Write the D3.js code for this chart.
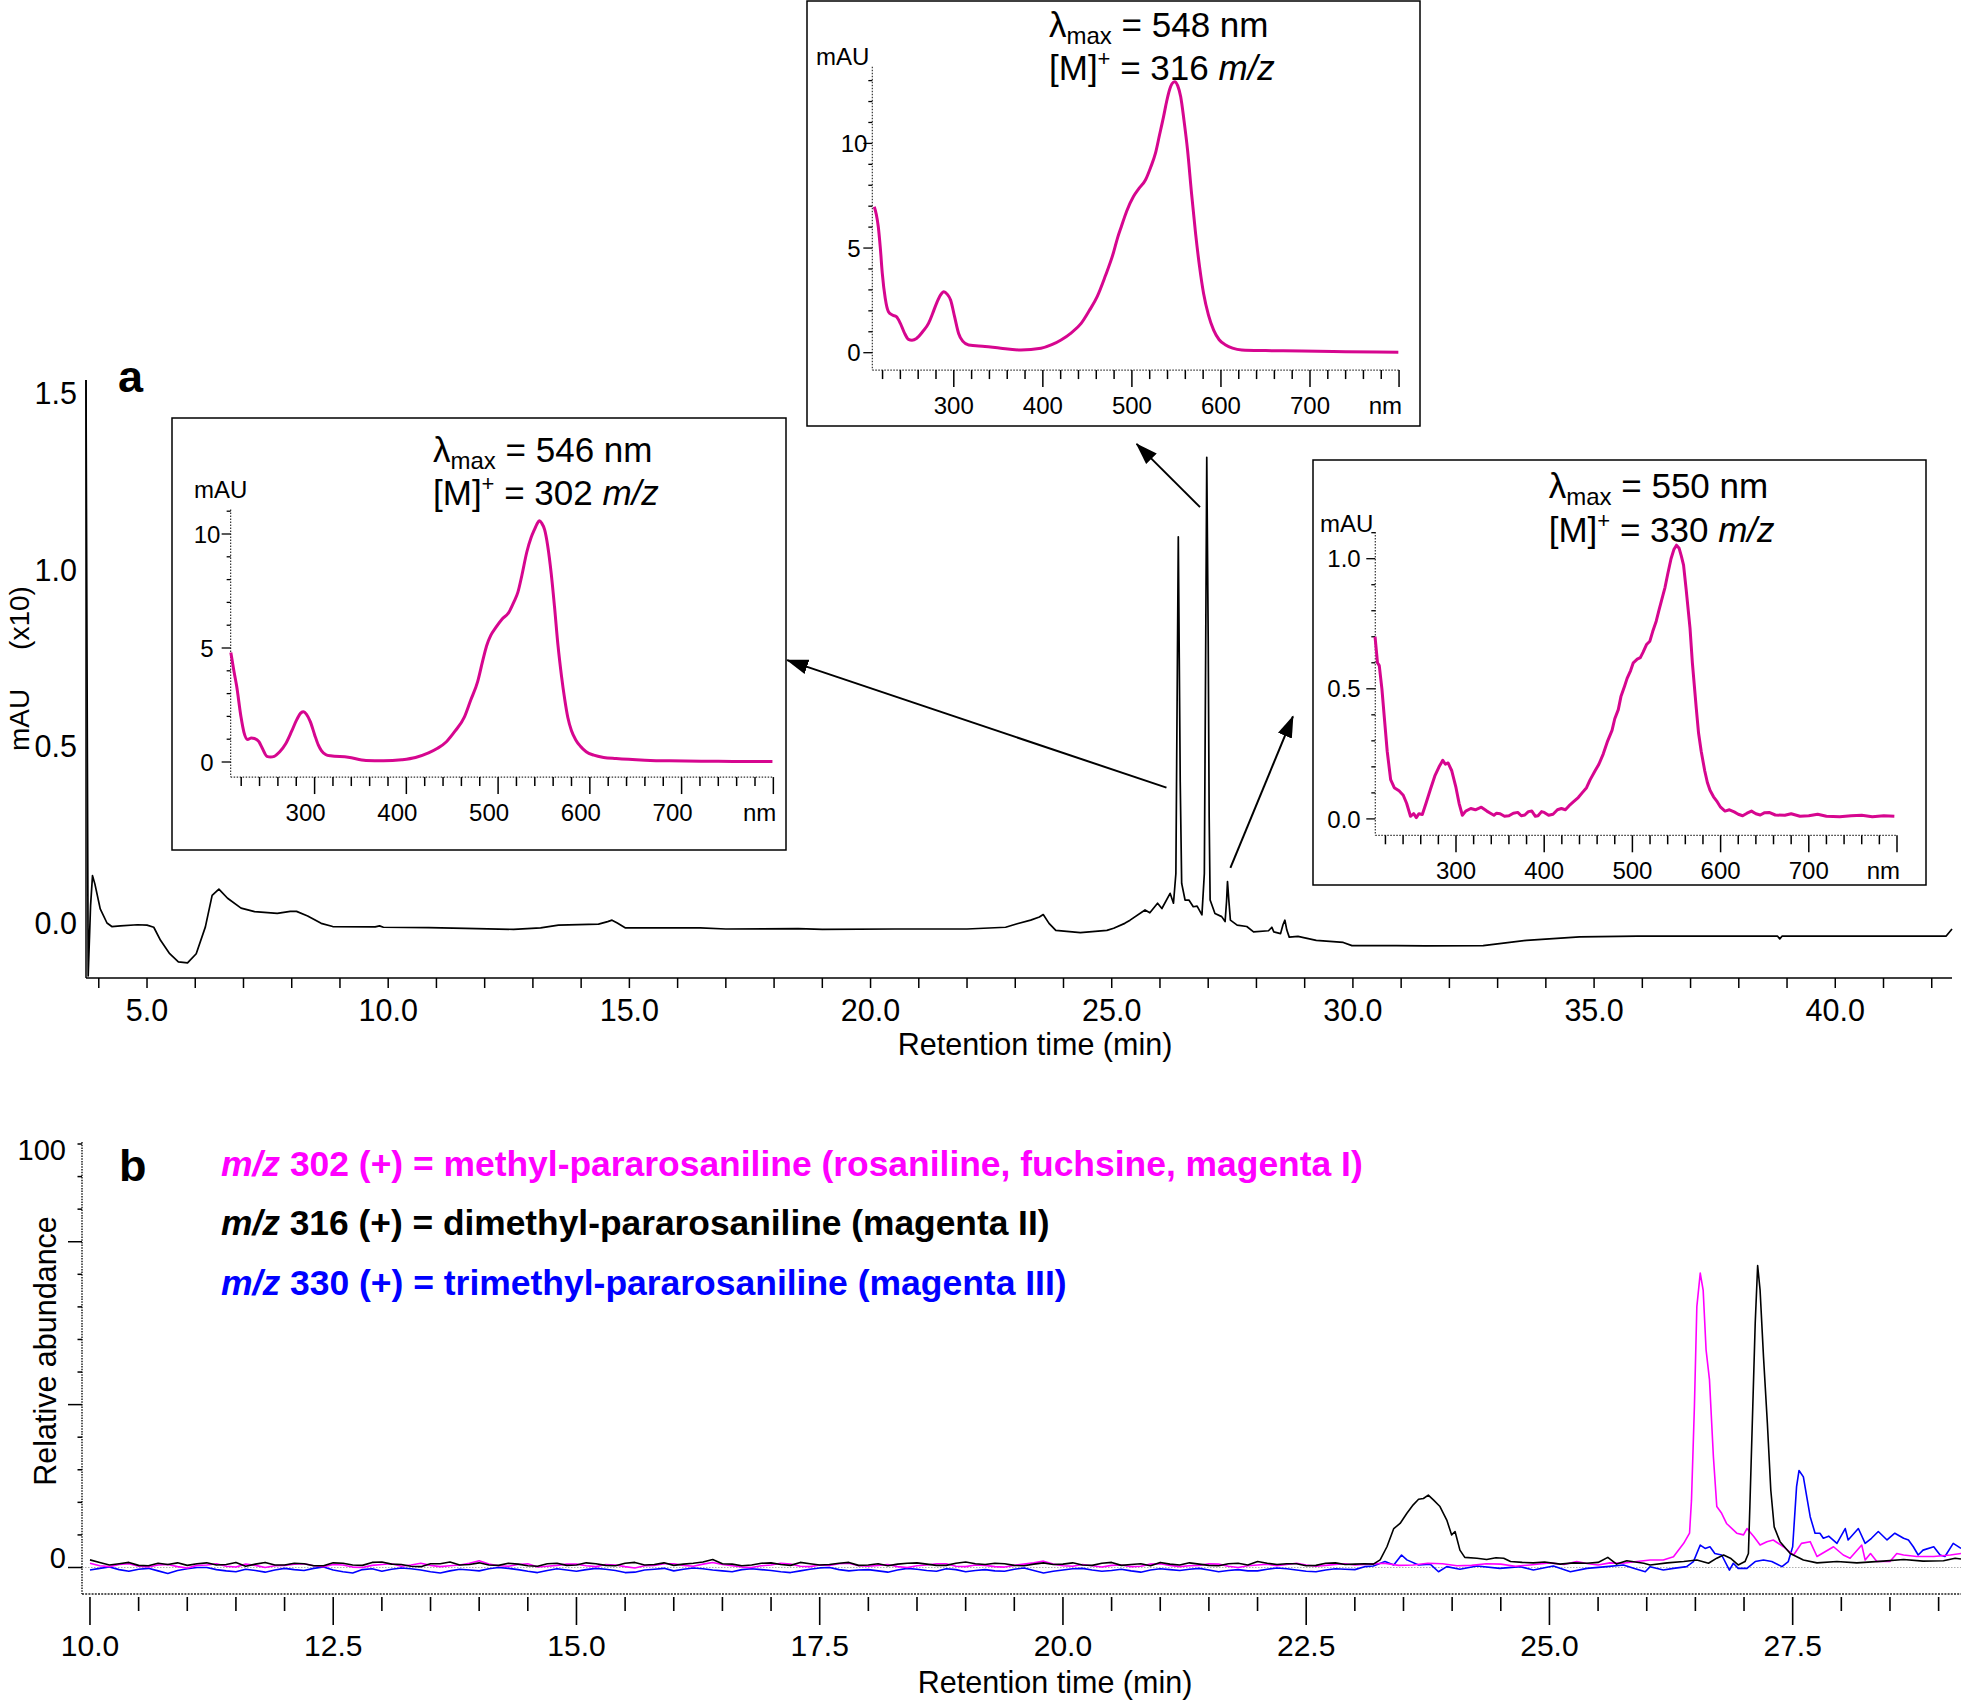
<!DOCTYPE html>
<html><head><meta charset="utf-8">
<script src="https://cdn.jsdelivr.net/npm/d3@7"></script>
<style>
body{margin:0;background:#fff}
svg{display:block;font-family:"Liberation Sans",Arial,Helvetica,sans-serif}
</style>
</head><body>
<svg id="c" width="1961" height="1703"></svg>
<script>
// ---------------- DATA ----------------
// Panel a: UV-Vis chromatogram (retention time min, mAU x10)
const chromA = [
[3.735,1.537],[3.78,-0.15],[3.83,0.05],[3.87,0.134],[3.92,0.11],[4.03,0.04],[4.17,0.0],[4.27,-0.01],[4.45,-0.008],[4.8,-0.005],[5.0,-0.006],[5.14,-0.012],[5.28,-0.049],[5.47,-0.087],[5.65,-0.11],[5.84,-0.113],[6.02,-0.087],[6.21,-0.011],[6.35,0.078],[6.49,0.096],[6.67,0.07],[6.95,0.042],[7.23,0.032],[7.7,0.027],[7.97,0.033],[8.1,0.033],[8.33,0.02],[8.61,-0.001],[8.85,-0.01],[9.73,-0.011],[9.82,-0.008],[9.9,-0.012],[10.84,-0.013],[11.6,-0.015],[12.6,-0.018],[13.16,-0.014],[13.53,-0.006],[14.36,-0.003],[14.55,0.004],[14.64,0.008],[14.75,0.0],[14.92,-0.014],[16.47,-0.014],[17.0,-0.017],[18.5,-0.016],[19.0,-0.018],[20.5,-0.017],[22.0,-0.017],[22.8,-0.012],[23.04,-0.002],[23.32,0.008],[23.5,0.017],[23.58,0.024],[23.7,-0.001],[23.84,-0.021],[24.35,-0.027],[24.9,-0.021],[25.04,-0.015],[25.27,-0.001],[25.38,0.008],[25.69,0.037],[25.79,0.029],[25.95,0.056],[26.04,0.041],[26.21,0.084],[26.28,0.056],[26.33,0.14],[26.36,0.71],[26.38,1.093],[26.40,0.75],[26.42,0.4],[26.45,0.112],[26.52,0.065],[26.6,0.065],[26.69,0.046],[26.77,0.048],[26.87,0.023],[26.92,0.14],[26.945,0.71],[26.97,1.318],[27.0,0.8],[27.02,0.3],[27.04,0.065],[27.14,0.027],[27.28,0.018],[27.35,0.004],[27.38,0.06],[27.4,0.117],[27.43,0.06],[27.46,0.008],[27.6,-0.006],[27.8,-0.01],[27.94,-0.025],[28.25,-0.022],[28.32,-0.012],[28.36,-0.025],[28.5,-0.03],[28.55,-0.005],[28.59,0.008],[28.63,-0.02],[28.68,-0.04],[28.86,-0.038],[29.24,-0.049],[29.8,-0.055],[29.98,-0.064],[30.9,-0.064],[31.5,-0.065],[32.7,-0.064],[33.6,-0.049],[34.7,-0.039],[35.9,-0.037],[38.8,-0.037],[38.85,-0.045],[38.9,-0.037],[42.3,-0.037],[42.42,-0.017]
];
const aXTickLabels = [5,10,15,20,25,30,35,40];
const aYTickLabels = [0,0.5,1.0,1.5];

// UV-Vis spectra (nm, mAU)
const spec302 = [[208.7,4.8],[212,4.0],[215,3.34],[219.8,1.97],[223,1.3],[227,0.99],[231,1.05],[234.5,1.03],[239.3,0.89],[243,0.6],[248,0.25],[252,0.22],[256,0.25],[262,0.45],[268.5,0.8],[275,1.35],[280.7,1.87],[285,2.15],[288,2.2],[291,2.1],[295.3,1.77],[300,1.2],[304,0.75],[307.4,0.5],[312,0.33],[317.2,0.27],[336.6,0.21],[356,0.07],[375,0.05],[395,0.1],[410,0.2],[424.2,0.4],[434,0.6],[443.7,0.89],[453,1.35],[463.2,1.97],[470,2.7],[477.8,3.54],[483,4.4],[487.5,5.1],[492,5.55],[497.2,5.88],[504,6.25],[511.8,6.57],[517,7.0],[521.6,7.45],[526,8.2],[531.3,9.21],[536,9.85],[539.6,10.19],[542.5,10.45],[544.9,10.58],[547.5,10.48],[550.7,10.19],[554,9.5],[558,8.23],[561.5,6.8],[565.3,5.1],[569,3.8],[572.6,2.75],[576,1.95],[579.9,1.38],[584.5,0.98],[589.7,0.69],[596,0.45],[604.3,0.3],[615,0.2],[628.6,0.15],[660,0.08],[686.9,0.05],[740,0.03],[799,0.02]];
const spec316 = [[210.7,6.97],[213,6.6],[215.2,6.02],[217.5,5.0],[219.7,3.79],[223,2.6],[226.6,1.96],[231,1.8],[235.5,1.72],[240,1.4],[244.5,0.95],[249,0.64],[253,0.6],[258.1,0.68],[265,1.0],[271.6,1.4],[276,1.85],[280.6,2.36],[285,2.75],[288.8,2.91],[292.5,2.8],[296.4,2.52],[301,1.7],[305.4,0.92],[310,0.55],[316.7,0.37],[335,0.3],[352.8,0.21],[375.4,0.13],[397.9,0.21],[410,0.38],[420.4,0.61],[432,0.95],[443,1.4],[452,2.0],[461,2.68],[470,3.65],[479.1,4.75],[484,5.5],[488.1,6.02],[494,6.75],[501.6,7.45],[508,7.85],[515.2,8.25],[521,8.85],[526.4,9.52],[531,10.4],[535.5,11.27],[539,12.0],[542.2,12.55],[545,12.85],[548.1,12.95],[551.5,12.75],[554.8,12.23],[558.5,11.1],[562.5,9.68],[567,7.6],[571.5,5.7],[576,4.1],[580.5,2.83],[586,1.8],[591.8,1.08],[598,0.62],[605.3,0.37],[613,0.22],[623.4,0.13],[650,0.1],[691,0.08],[740,0.05],[799.2,0.02]];
const spec330 = [[208.2,0.70],[211,0.60],[213,0.589],[216,0.5],[218.7,0.391],[222,0.26],[225.9,0.151],[230,0.12],[235.4,0.108],[240.2,0.091],[244,0.06],[248.4,0.01],[252,0.02],[255,0.005],[258,0.02],[261.8,0.017],[266,0.06],[271.3,0.117],[276,0.165],[280.8,0.20],[285,0.225],[288,0.21],[291,0.215],[295.2,0.185],[300,0.12],[303.5,0.06],[307.2,0.014],[311,0.03],[316.7,0.04],[322,0.035],[328.7,0.045],[335,0.03],[339,0.022],[343,0.014],[346,0.022],[350,0.02],[355,0.01],[360,0.012],[365,0.022],[370,0.025],[374,0.012],[378,0.015],[382,0.028],[386,0.03],[390,0.01],[393,0.012],[397,0.028],[400,0.025],[405,0.014],[410,0.018],[415,0.035],[419.5,0.04],[424,0.035],[428,0.05],[433,0.065],[438.6,0.082],[443,0.1],[448,0.12],[452,0.15],[457.7,0.185],[462,0.21],[467,0.25],[472,0.3],[476.9,0.34],[480,0.385],[484,0.42],[487,0.47],[491.2,0.511],[494,0.54],[498,0.57],[501,0.6],[505.5,0.614],[509,0.62],[512,0.64],[516,0.67],[519.8,0.683],[523,0.72],[527,0.76],[530,0.8],[534.2,0.854],[537,0.89],[540,0.94],[543.8,1.0],[547,1.035],[550,1.052],[553,1.04],[555.5,1.01],[558,0.975],[561,0.88],[565.3,0.734],[568,0.6],[572.4,0.426],[575,0.33],[578,0.26],[582,0.185],[585,0.14],[588,0.11],[592,0.085],[596.3,0.065],[600,0.045],[605,0.03],[610,0.035],[615.4,0.027],[620,0.018],[625,0.012],[630,0.022],[635,0.03],[640,0.02],[645,0.015],[650,0.024],[655,0.025],[662,0.015],[672.8,0.014],[680,0.02],[690,0.01],[700,0.012],[710,0.018],[720,0.01],[735,0.008],[748,0.012],[760,0.014],[772,0.008],[785,0.012],[797,0.01]];
const specXTickLabels = [300,400,500,600,700];

// Panel b: extracted ion chromatograms (min, relative abundance)
const baseT = [10.0,10.1,10.2,10.3,10.4,10.5,10.6,10.7,10.8,10.9,11.0,11.1,11.2,11.3,11.4,11.5,11.6,11.7,11.8,11.9,12.0,12.1,12.2,12.3,12.4,12.5,12.6,12.7,12.8,12.9,13.0,13.1,13.2,13.3,13.4,13.5,13.6,13.7,13.8,13.9,14.0,14.1,14.2,14.3,14.4,14.5,14.6,14.7,14.8,14.9,15.0,15.1,15.2,15.3,15.4,15.5,15.6,15.7,15.8,15.9,16.0,16.1,16.2,16.3,16.4,16.5,16.6,16.7,16.8,16.9,17.0,17.1,17.2,17.3,17.4,17.5,17.6,17.7,17.8,17.9,18.0,18.1,18.2,18.3,18.4,18.5,18.6,18.7,18.8,18.9,19.0,19.1,19.2,19.3,19.4,19.5,19.6,19.7,19.8,19.9,20.0,20.1,20.2,20.3,20.4,20.5,20.6,20.7,20.8,20.9,21.0,21.1,21.2,21.3,21.4,21.5,21.6,21.7,21.8,21.9,22.0,22.1,22.2,22.3,22.4,22.5,22.6,22.7,22.8,22.9,23.0];
const base316 = [1.8,1.2,0.6,0.9,1.2,0.5,0.4,1.0,0.7,1.1, 0.5,0.9,1.1,0.6,0.7,1.2,0.3,0.8,1.2,0.6, 0.6,1.0,0.9,0.4,0.4,1.1,1.0,0.6,0.5,1.2, 1.3,0.8,0.7,0.3,0.2,0.9,0.9,1.3,0.6,0.7, 1.1,0.6,0.5,1.0,0.8,0.4,0.3,0.9,1.0,0.5, 0.6,1.1,0.9,0.5,0.4,1.0,1.2,0.6,0.7,1.1, 0.5,0.8,1.0,1.3,1.9,0.9,0.8,0.4,0.6,1.0, 1.1,0.7,0.5,1.2,0.9,0.6,0.7,1.0,1.2,0.5, 0.6,0.9,0.4,0.8,1.0,1.1,0.8,0.5,0.5,1.0, 1.3,0.9,0.7,1.0,0.9,0.5,0.4,0.8,1.1,0.7, 0.8,1.1,0.6,0.5,1.0,1.2,0.5,0.7,0.9,0.4, 1.2,0.8,0.6,1.1,0.8,0.5,0.4,0.9,1.0,0.6, 1.4,1.0,0.7,0.9,0.9,0.4,0.5,1.0,1.1,0.7, 0.8];
const base302 = [1.0,0.4,0.2,0.7,0.9,0.3,0.1,0.6,0.7,0.2, -0.1,0.5,0.6,0.9,0.3,0.1,0.8,0.5,0.0,0.4, 0.5,0.8,0.9,0.4,0.2,0.7,0.6,0.1,0.0,0.5, 0.7,0.9,0.3,0.6,1.0,0.5,0.2,0.4,0.6,1.0, 1.6,0.8,0.4,0.3,0.7,0.9,0.1,0.3,0.5,0.8, 0.8,0.4,0.2,0.7,0.6,0.2,-0.1,0.4,0.5,0.9, 0.9,0.5,0.3,0.8,1.2,0.7,0.4,0.1,0.0,0.4, 0.6,1.0,0.8,0.3,0.2,0.6,0.5,0.9,1.0,0.4, 0.3,0.5,0.7,0.2,0.0,0.4,0.6,0.9,0.9,0.3, 0.2,0.6,0.5,0.2,0.1,0.5,0.8,1.1,1.5,0.8, 0.4,0.3,0.7,0.4,0.1,0.5,0.6,0.2,0.3,0.8, 0.9,0.5,0.2,0.4,0.5,0.9,0.8,0.3,0.0,0.4, 0.6,0.8,0.4,0.7,1.0,0.6,0.3,0.5,0.7,0.9, 0.6];
const base330 = [-0.6,-0.2,0.1,-0.5,-0.9,-0.4,-0.2,-0.8,-1.4,-0.7, -0.3,0.0,0.0,-0.5,-0.8,-1.0,-0.4,-0.7,-1.1,-0.6, -0.2,-0.5,-0.7,-0.2,0.1,-0.6,-1.0,-1.3,-0.5,-0.3, -0.9,-0.4,-0.1,-0.3,-0.6,-1.0,-1.3,-0.8,-0.4,-0.6, -0.8,-0.3,0.0,-0.2,-0.5,-0.9,-1.2,-0.7,-0.3,-0.6, -0.9,-0.5,-0.2,-0.4,-0.7,-1.2,-1.1,-0.6,-0.4,-0.2, -0.8,-0.4,-0.1,-0.3,-0.6,-0.8,-1.0,-0.5,-0.3,-0.5, -0.7,-1.0,-1.2,-0.8,-0.4,-0.1,0.0,-0.5,-0.8,-0.6, -0.5,-0.8,-1.1,-0.6,-0.2,-0.4,-0.7,-0.9,-0.3,-0.5, -1.0,-0.7,-0.5,-0.8,-0.9,-0.4,-0.1,-0.7,-1.3,-0.9, -0.6,-0.3,-0.2,-0.6,-0.9,-0.7,-0.4,-0.8,-1.1,-0.6, -0.3,-0.5,-0.7,-0.4,-0.2,-0.6,-1.0,-0.7,-0.5,-0.8, -0.8,-0.4,-0.1,-0.3,-0.6,-0.9,-1.0,-0.6,-0.3,-0.4, -0.5];
const tail316 = [[23.1,0.9],[23.19,0.8],[23.26,1.8],[23.33,4.9],[23.4,9.2],[23.465,10.4],[23.535,12.8],[23.6,14.8],[23.655,16.1],[23.705,16.3],[23.755,17.1],[23.81,15.9],[23.875,14.4],[23.945,11.2],[23.995,7.7],[24.03,8.5],[24.08,4.1],[24.13,2.4],[24.255,2.2],[24.355,1.9],[24.45,2.3],[24.53,2.2],[24.6,1.4],[24.72,1.2],[24.835,1.1],[24.95,1.3],[25.11,0.8],[25.25,1.1],[25.385,1.0],[25.5,1.2],[25.6,2.4],[25.69,0.8],[25.795,1.6],[25.97,1.0],[26.035,0.6],[26.21,1.1],[26.38,1.4],[26.515,1.77],[26.635,1.0],[26.72,2.2],[26.79,2.95],[26.86,2.2],[26.94,0.6],[27.01,1.4],[27.045,3.3],[27.06,14.4],[27.09,38],[27.115,57.7],[27.14,71.3],[27.165,65.5],[27.2,49.8],[27.24,34],[27.275,18.3],[27.31,9.6],[27.37,6.1],[27.475,3.3],[27.61,1.77],[27.75,1.1],[27.955,1.4],[28.16,1.1],[28.43,1.5],[28.64,1.9],[28.84,1.5],[29.05,1.6],[29.17,2.2],[29.23,2.0]];
const tail302 = [[23.15,0.8],[23.3,1.0],[23.45,0.5],[23.6,0.6],[23.75,1.0],[23.9,0.9],[24.05,0.4],[24.2,0.5],[24.35,0.9],[24.5,0.8],[24.65,0.3],[24.8,0.6],[25.0,1.1],[25.15,0.7],[25.28,1.4],[25.4,0.9],[25.5,0.6],[25.62,1.1],[25.75,1.0],[25.9,1.4],[26.035,1.77],[26.17,1.77],[26.275,2.56],[26.38,5.7],[26.44,8.1],[26.46,15.9],[26.49,38],[26.515,61.6],[26.55,69.5],[26.58,65.5],[26.61,51.4],[26.645,44.3],[26.685,26.2],[26.72,14.4],[26.77,12.8],[26.82,10.4],[26.925,8.1],[26.995,7.7],[27.03,9.2],[27.1,7.3],[27.165,5.3],[27.235,6.1],[27.3,6.5],[27.405,4.9],[27.51,2.95],[27.59,5.7],[27.68,6.1],[27.75,2.6],[27.92,4.9],[28.02,2.95],[28.09,2.2],[28.21,5.3],[28.245,1.77],[28.3,3.3],[28.365,1.4],[28.5,1.4],[28.57,3.3],[28.64,2.95],[28.775,2.6],[28.95,2.6],[29.12,2.95],[29.23,3.3]];
const tail330 = [[23.1,0.2],[23.19,0.35],[23.31,1.4],[23.4,0.6],[23.48,2.95],[23.535,1.8],[23.655,0.6],[23.775,0.8],[23.86,-1.0],[23.945,0.2],[24.08,-0.4],[24.255,0.35],[24.49,-0.2],[24.7,0.2],[24.835,-0.6],[25.04,0.35],[25.215,-1.0],[25.385,-0.2],[25.59,0.2],[25.76,0.6],[25.865,-0.2],[25.985,-1.0],[26.035,0.2],[26.17,-0.6],[26.275,-0.2],[26.41,0.2],[26.48,1.4],[26.55,5.3],[26.6,4.5],[26.65,4.9],[26.7,3.3],[26.77,2.95],[26.85,-0.6],[26.89,1.0],[26.94,-0.2],[27.03,-0.2],[27.115,1.4],[27.2,1.77],[27.285,1.4],[27.39,0.2],[27.455,1.4],[27.5,4.9],[27.54,19.1],[27.565,22.9],[27.61,21.4],[27.645,16.7],[27.68,12.0],[27.73,8.1],[27.78,8.1],[27.815,6.9],[27.87,7.4],[27.955,5.7],[28.04,9.2],[28.07,6.5],[28.175,9.2],[28.245,5.7],[28.31,6.9],[28.38,8.5],[28.47,6.5],[28.55,8.1],[28.64,6.9],[28.69,6.5],[28.74,4.9],[28.79,2.95],[28.84,4.1],[28.95,4.9],[29.015,2.95],[29.065,2.6],[29.15,5.7],[29.23,4.5]];
const bXTickLabels = [10.0,12.5,15.0,17.5,20.0,22.5,25.0,27.5];
const bYTickLabels = [0,100];
const legendLines = [
  {mz:"302", rest:" (+) = methyl-pararosaniline (rosaniline, fuchsine, magenta I)", color:"#ff00ff"},
  {mz:"316", rest:" (+) = dimethyl-pararosaniline (magenta II)", color:"#000000"},
  {mz:"330", rest:" (+) = trimethyl-pararosaniline (magenta III)", color:"#0000ff"}
];
const insetLabels = [
  {lambda:"546", mz:"302"},
  {lambda:"548", mz:"316"},
  {lambda:"550", mz:"330"}
];

// ---------------- DRAW ----------------
const svg = d3.select("#c");
svg.append("rect").attr("width",1961).attr("height",1703).attr("fill","#fff");
const defs = svg.append("defs");
defs.append("marker").attr("id","arr").attr("markerUnits","userSpaceOnUse")
  .attr("viewBox","0 -8 22 16").attr("refX",21).attr("refY",0)
  .attr("markerWidth",22).attr("markerHeight",16).attr("orient","auto")
  .append("path").attr("d","M0,-7.5L22,0L0,7.5Z").attr("fill","#000");

// ===== Panel a =====
const xA = d3.scaleLinear().domain([3.735, 42.42]).range([86, 1952]);
const yA = d3.scaleLinear().domain([0, 1.5]).range([923, 393]);
const gA = svg.append("g");
gA.append("line").attr("x1",86).attr("x2",86).attr("y1",yA(1.537)).attr("y2",978).attr("stroke","#000").attr("stroke-width",1.5);
gA.append("line").attr("x1",86).attr("x2",1952).attr("y1",978).attr("y2",978).attr("stroke","#000").attr("stroke-width",1.5);
gA.selectAll(".xt").data(d3.range(4,43)).enter().append("line")
  .attr("x1",d=>xA(d)).attr("x2",d=>xA(d)).attr("y1",978).attr("y2",988).attr("stroke","#000").attr("stroke-width",1.5);
gA.selectAll(".xl").data(aXTickLabels).enter().append("text")
  .attr("x",d=>xA(d)).attr("y",1021).attr("text-anchor","middle").attr("font-size",30.5).text(d=>d3.format(".1f")(d));
gA.selectAll(".yl").data(aYTickLabels).enter().append("text")
  .attr("x",77).attr("y",d=>yA(d)).attr("dy","0.36em").attr("text-anchor","end").attr("font-size",30.5).text(d=>d3.format(".1f")(d));
gA.append("text").attr("x",1035).attr("y",1055).attr("text-anchor","middle").attr("font-size",30.5).text("Retention time (min)");
gA.append("text").attr("transform","translate(29,720) rotate(-90)").attr("text-anchor","middle").attr("font-size",28).text("mAU");
gA.append("text").attr("transform","translate(29,618) rotate(-90)").attr("text-anchor","middle").attr("font-size",28).text("(x10)");
gA.append("text").attr("x",118).attr("y",392).attr("font-size",45).attr("font-weight","bold").text("a");
const lineA = d3.line().x(d=>xA(d[0])).y(d=>yA(d[1]));
gA.append("path").datum(chromA).attr("d",lineA).attr("fill","none").attr("stroke","#000").attr("stroke-width",1.7).attr("stroke-linejoin","round");

// arrows (annotation, anchored in panel-a data coordinates)
const arrows = [
  {from:[26.135,0.383], to:[18.27,0.744]},
  {from:[26.83,1.177], to:[25.515,1.356]},
  {from:[27.46,0.156], to:[28.757,0.585]}
];
gA.selectAll(".arr").data(arrows).enter().append("line")
  .attr("x1",d=>xA(d.from[0])).attr("y1",d=>yA(d.from[1]))
  .attr("x2",d=>xA(d.to[0])).attr("y2",d=>yA(d.to[1]))
  .attr("stroke","#000").attr("stroke-width",2).attr("marker-end","url(#arr)");

// ===== Insets =====
const insets = [
  {data:spec302, box:[172,418,786,850], xr:[314.6,681.6], yd:[0,10], yr:[762,534], ext:[-0.66,11.07],
   yStep:1, yMaj:5, yTicks:12, yLab:[0,5,10], yFmt:d3.format("d"), yLabX:207, mau:[194,498], labDx:-9,
   txt:[433,461.8], lab:insetLabels[0], curve:d3.curveMonotoneX},
  {data:spec316, box:[807,1,1420,426], xr:[953.8,1310], yd:[0,10], yr:[352.7,143.4], ext:[-0.83,13.66],
   yStep:1, yMaj:5, yTicks:14, yLab:[0,5,10], yFmt:d3.format("d"), yLabX:854, mau:[816,65], labDx:0,
   txt:[1049,36.7], lab:insetLabels[1], curve:d3.curveMonotoneX},
  {data:spec330, box:[1313,460,1926,885], xr:[1456,1808.8], yd:[0,1], yr:[818.9,558.7], ext:[-0.063,1.103],
   yStep:0.1, yMaj:0.5, yTicks:12, yLab:[0,0.5,1.0], yFmt:d3.format(".1f"), yLabX:1344, mau:[1320,532], labDx:0,
   txt:[1548.7,498.4], lab:insetLabels[2], curve:d3.curveLinear}
];
const magentaUV = "#d6068f";
insets.forEach(c => {
  const g = svg.append("g");
  g.append("rect").attr("x",c.box[0]).attr("y",c.box[1]).attr("width",c.box[2]-c.box[0]).attr("height",c.box[3]-c.box[1])
    .attr("fill","#fff").attr("stroke","#000").attr("stroke-width",1.5);
  const x = d3.scaleLinear().domain([300,700]).range(c.xr);
  const y = d3.scaleLinear().domain(c.yd).range(c.yr);
  const x0 = x(208.5), x1 = x(800), yb = y(c.ext[0]), yt = y(c.ext[1]);
  g.append("line").attr("x1",x0).attr("x2",x0).attr("y1",yt).attr("y2",yb).attr("stroke","#333").attr("stroke-width",1.2).attr("stroke-dasharray","1.5 1.5");
  g.append("line").attr("x1",x0).attr("x2",x1).attr("y1",yb).attr("y2",yb).attr("stroke","#333").attr("stroke-width",1.2).attr("stroke-dasharray","1.5 1.5");
  const xt = d3.range(220, 801, 20);
  g.selectAll(".t").data(xt).enter().append("line")
    .attr("x1",d=>x(d)).attr("x2",d=>x(d)).attr("y1",yb).attr("y2",d=> d%100===0 ? yb+17 : yb+9)
    .attr("stroke","#000").attr("stroke-width",1.5);
  g.selectAll(".l").data(specXTickLabels).enter().append("text")
    .attr("x",d=>x(d)+c.labDx).attr("y",yb+35).attr("dy","0.36em").attr("text-anchor","middle").attr("font-size",24).text(d=>d);
  g.append("text").attr("x",x(800)+3).attr("y",yb+35).attr("dy","0.36em").attr("text-anchor","end").attr("font-size",24).text("nm");
  const yt2 = d3.range(0, c.yTicks).map(i => +(i*c.yStep).toFixed(2)).filter(v => y(v) >= yt-1);
  g.selectAll(".yt").data(yt2).enter().append("line")
    .attr("x1",d=> (Math.abs(d/c.yMaj - Math.round(d/c.yMaj))<1e-6) ? x0-9 : x0-4).attr("x2",x0)
    .attr("y1",d=>y(d)).attr("y2",d=>y(d)).attr("stroke","#000").attr("stroke-width",1.3);
  g.selectAll(".yl").data(c.yLab).enter().append("text")
    .attr("x",c.yLabX).attr("y",d=>y(d)).attr("dy","0.36em").attr("text-anchor","middle").attr("font-size",24).text(c.yFmt);
  g.append("text").attr("x",c.mau[0]).attr("y",c.mau[1]).attr("font-size",24).text("mAU");
  g.append("path").datum(c.data).attr("d", d3.line().curve(c.curve).x(d=>x(d[0])).y(d=>y(d[1])))
    .attr("fill","none").attr("stroke",magentaUV).attr("stroke-width",3).attr("stroke-linejoin","round");
  const t1 = g.append("text").attr("x",c.txt[0]).attr("y",c.txt[1]).attr("font-size",35);
  t1.append("tspan").text("λ");
  t1.append("tspan").attr("font-size",24).attr("dy",7).text("max");
  t1.append("tspan").attr("dy",-7).text(" = " + c.lab.lambda + " nm");
  const t2 = g.append("text").attr("x",c.txt[0]).attr("y",c.txt[1]+43.3).attr("font-size",35);
  t2.append("tspan").text("[M]");
  t2.append("tspan").attr("font-size",22).attr("dy",-14).text("+");
  t2.append("tspan").attr("dy",14).text(" = " + c.lab.mz + " ");
  t2.append("tspan").attr("font-style","italic").text("m/z");
});

// ===== Panel b =====
const xB = d3.scaleLinear().domain([9.918, 29.23]).range([82, 1961]);
const yB = d3.scaleLinear().domain([0, 100]).range([1567.5, 1144]);
const gB = svg.append("g");
gB.append("line").attr("x1",82).attr("x2",1961).attr("y1",yB(0)).attr("y2",yB(0)).attr("stroke","#b0b0b0").attr("stroke-width",1.2).attr("stroke-dasharray","1.5 1.5");
gB.append("line").attr("x1",82).attr("x2",82).attr("y1",1142).attr("y2",1594).attr("stroke","#222").attr("stroke-width",1.5).attr("stroke-dasharray","1.5 1.2");
gB.append("line").attr("x1",82).attr("x2",1961).attr("y1",1594).attr("y2",1594).attr("stroke","#222").attr("stroke-width",1.6).attr("stroke-dasharray","2 1.2");
const bxt = d3.range(0, 39).map(i => 10 + i*0.5);
gB.selectAll(".bxt").data(bxt).enter().append("line")
  .attr("x1",d=>xB(d)).attr("x2",d=>xB(d)).attr("y1",1597).attr("y2",d=> (Math.abs(d/2.5-Math.round(d/2.5))<1e-6) ? 1625 : 1611)
  .attr("stroke","#000").attr("stroke-width",1.6);
gB.selectAll(".bxl").data(bXTickLabels).enter().append("text")
  .attr("x",d=>xB(d)).attr("y",1656).attr("text-anchor","middle").attr("font-size",30).text(d=>d3.format(".1f")(d));
const byt = d3.range(0, 14).map(i => i*100/13);
gB.selectAll(".byt").data(byt).enter().append("line")
  .attr("x1",(d,i)=> (i%5===0) ? 68 : 77.5).attr("x2",82)
  .attr("y1",d=>yB(d)).attr("y2",d=>yB(d)).attr("stroke","#000").attr("stroke-width",1.5);
gB.selectAll(".byl").data(bYTickLabels).enter().append("text")
  .attr("x",66).attr("y",d=> d===0 ? yB(d)-10 : yB(d)+6).attr("dy","0.36em").attr("text-anchor","end").attr("font-size",29).text(d=>d);
gB.append("text").attr("transform","translate(56,1351) rotate(-90)").attr("text-anchor","middle").attr("font-size",30.5).text("Relative abundance");
gB.append("text").attr("x",1055).attr("y",1693).attr("text-anchor","middle").attr("font-size",30.5).text("Retention time (min)");
gB.append("text").attr("x",119).attr("y",1181).attr("font-size",45).attr("font-weight","bold").text("b");
const legY = [1176, 1235, 1295];
const legW = [1142, 829, 846];
legendLines.forEach((L,i) => {
  const t = gB.append("text").attr("x",221).attr("y",legY[i]).attr("font-size",34).attr("font-weight","bold").attr("fill",L.color);
  t.append("tspan").attr("font-style","italic").text("m/z");
  t.append("tspan").text(" " + L.mz + L.rest);
  const w = t.node().getComputedTextLength();
  if (w > 0) t.attr("font-size", 34*legW[i]/w);
});
const lineB = d3.line().x(d=>xB(d[0])).y(d=>yB(d[1]));
const s316 = baseT.map((t,i)=>[t, base316[i]]).concat(tail316);
const s302 = baseT.map((t,i)=>[t, base302[i]]).concat(tail302);
const s330 = baseT.map((t,i)=>[t, base330[i]]).concat(tail330);
[[s330,"#0000ff"],[s302,"#ff00ff"],[s316,"#000000"]].forEach(([s,c]) => {
  gB.append("path").datum(s).attr("d",lineB).attr("fill","none").attr("stroke",c).attr("stroke-width",1.6).attr("stroke-linejoin","round");
});
</script>
</body></html>
